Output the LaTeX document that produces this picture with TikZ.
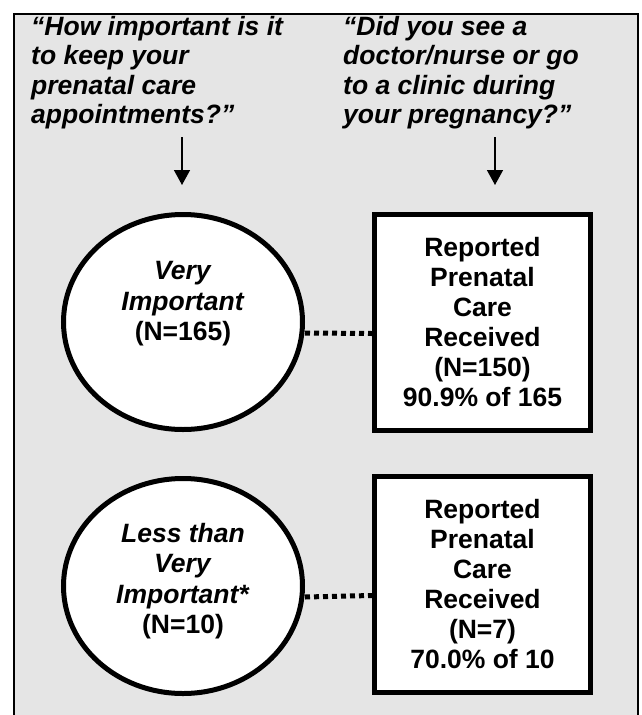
\documentclass[tikz,border=0pt]{standalone}
\usepackage{fontspec}
\setmainfont{Liberation Sans}
\usepackage{xcolor}
\usepackage{tikz}
\usetikzlibrary{arrows.meta,shapes.geometric,positioning}
\definecolor{panelgray}{RGB}{229,229,229}

\begin{document}
\begin{tikzpicture}[
    x=1pt, y=-1pt,
    question/.style={
        anchor=north west,
        align=left,
        inner sep=0pt,
        font=\fontsize{26.5}{29.5}\selectfont\bfseries\itshape
    },
    ratingnode/.style={
        ellipse,
        draw=black,
        fill=white,
        line width=5pt,
        minimum width=239pt,
        minimum height=215pt,
        inner sep=0pt
    },
    ratingtext/.style={
        align=center,
        inner sep=0pt,
        font=\fontsize{26.5}{30.5}\selectfont\bfseries
    },
    answerbox/.style={
        rectangle,
        draw=black,
        fill=white,
        line width=5pt,
        minimum width=216pt,
        minimum height=216pt,
        inner sep=0pt,
        align=center,
        font=\fontsize{26.5}{30}\selectfont\bfseries
    },
    arrow/.style={
        -{Triangle[length=15pt,width=16pt]},
        line width=1.5pt,
        color=black
    },
    dotlink/.style={
        line width=5pt,
        dash pattern=on 5pt off 4pt
    }
]

\useasboundingbox (0,0) rectangle (642,715);

% Panel
\fill[panelgray] (14,14) rectangle (638,715);
\draw[line width=2.5pt] (14,715) -- (14,14) -- (638,14) -- (638,715);

% Survey questions
\node[question] (qimportance) at (31,16) {“How important is it\\to keep your\\prenatal care\\appointments?”};
\node[question] (qvisit) at (343,16) {“Did you see a\\doctor/nurse or go\\to a clinic during\\your pregnancy?”};

% Importance groups
\node[ratingnode, label={[ratingtext, yshift=18pt]center:{\textit{Very}\\\textit{Important}\\(N=165)}}] (veryimp) at (183,322) {};
\node[ratingnode, label={[ratingtext, yshift=5pt]center:{\textit{Less than}\\\textit{Very}\\\textit{Important*}\\(N=10)}}] (lessimp) at (183,586) {};

% Care received
\node[answerbox] (carevery) at (482.5,322.5) {Reported\\Prenatal\\Care\\Received\\(N=150)\\90.9\% of 165};
\node[answerbox] (careless) at (482.5,584.5) {Reported\\Prenatal\\Care\\Received\\(N=7)\\70.0\% of 10};

% Arrows under the questions
\coordinate (impstart) at (182,137);
\coordinate (impend) at (182,185);
\coordinate (visitstart) at (495,137);
\coordinate (visitend) at (495,185);
\draw[arrow] (impstart) -- (impend);
\draw[arrow] (visitstart) -- (visitend);

% Dotted links
\draw[dotlink] ([yshift=-11pt]veryimp.east) -- ([yshift=-11pt]carevery.west);
\draw[dotlink] ([yshift=-11pt]lessimp.east) -- ([yshift=-11pt]careless.west);

\end{tikzpicture}
\end{document}
